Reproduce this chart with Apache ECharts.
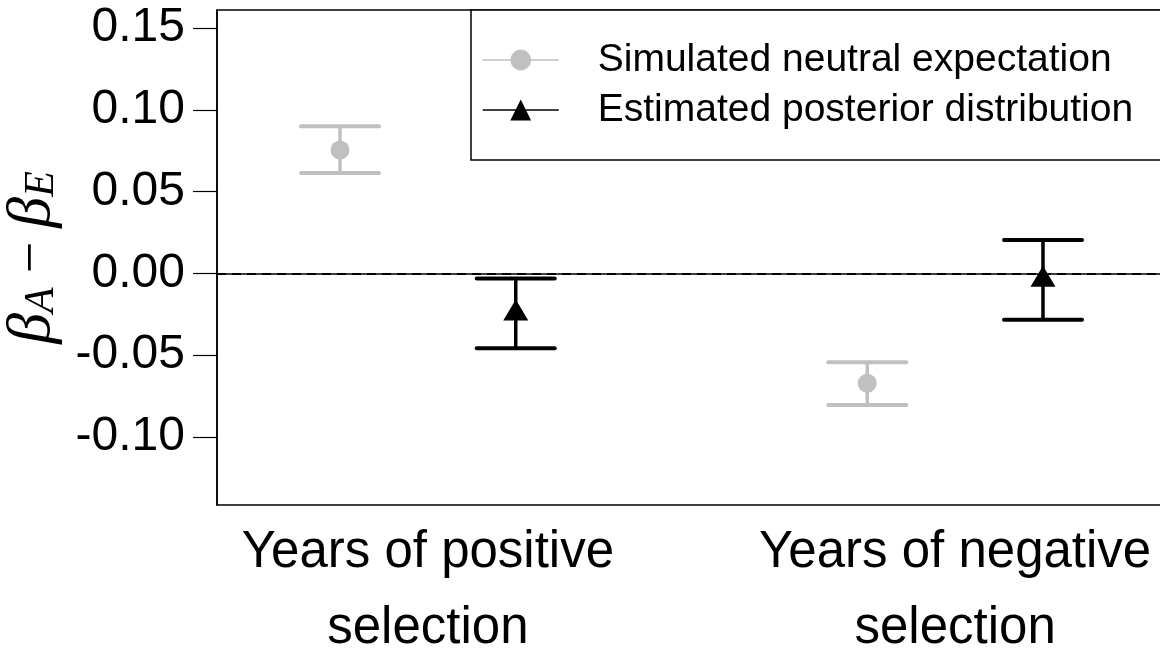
<!DOCTYPE html>
<html>
<head>
<meta charset="utf-8">
<script src="https://cdn.jsdelivr.net/npm/echarts@6/dist/echarts.min.js"></script>
<style>
html,body{margin:0;padding:0;background:#fff;}
#chart{width:1160px;height:650px;}
</style>
</head>
<body>
<div id="chart"></div>
<script>
// ---- data ----
var categories = ['Years of positive\nselection', 'Years of negative\nselection'];
var catPos = [1, 2];
var seriesNames = ['Simulated neutral expectation', 'Estimated posterior distribution'];
var neutralMean = [0.0754, -0.0672];
var neutralLow = [0.0613, -0.0805];
var neutralHigh = [0.0900, -0.0544];
var posteriorMean = [-0.0224, -0.0018];
var posteriorLow = [-0.0458, -0.0284];
var posteriorHigh = [-0.0031, 0.0204];
var yTicks = [-0.10, -0.05, 0.00, 0.05, 0.10, 0.15];

// ---- chart ----
var OFF = 1 / 6;
var GRAY = '#c0c0c0';
var BLACK = '#000000';
var FONT = 'Liberation Sans';

function errData(low, high, sign) {
  return catPos.map(function (c, i) { return [c + sign * OFF, low[i], high[i]]; });
}
function meanData(mean, sign) {
  return catPos.map(function (c, i) { return [c + sign * OFF, mean[i]]; });
}
function errSeries(low, high, sign, color) {
  return {
    type: 'custom',
    silent: true,
    z: 2,
    data: errData(low, high, sign),
    encode: { x: 0, y: [1, 2] },
    renderItem: function (params, api) {
      var x = api.value(0);
      var lo = api.coord([x, api.value(1)]);
      var hi = api.coord([x, api.value(2)]);
      var hw = 39;
      return {
        type: 'group',
        children: [
          { type: 'line', shape: { x1: lo[0], y1: lo[1], x2: hi[0], y2: hi[1] },
            style: { stroke: color, lineWidth: 3.5 } },
          { type: 'line', shape: { x1: lo[0] - hw, y1: lo[1], x2: lo[0] + hw, y2: lo[1] },
            style: { stroke: color, lineWidth: 4, lineCap: 'round' } },
          { type: 'line', shape: { x1: hi[0] - hw, y1: hi[1], x2: hi[0] + hw, y2: hi[1] },
            style: { stroke: color, lineWidth: 4, lineCap: 'round' } }
        ]
      };
    }
  };
}

var chart = echarts.init(document.getElementById('chart'), null, { renderer: 'canvas' });
var option = {
  animation: false,
  backgroundColor: '#fff',
  grid: {
    left: 217, top: 10, width: 949, height: 495,
    containLabel: false,
    outerBoundsMode: 'none',
    show: true, borderColor: BLACK, borderWidth: 1.5, backgroundColor: 'transparent'
  },
  legend: {
    orient: 'vertical',
    left: 471, top: 10,
    padding: [30, 60, 30, 11],
    itemGap: 10,
    itemWidth: 76,
    itemHeight: 26,
    borderColor: BLACK,
    borderWidth: 1.5,
    borderRadius: 0,
    backgroundColor: '#fff',
    textStyle: { fontFamily: FONT, fontSize: 39, color: BLACK, lineHeight: 40, padding: [0, 0, 0, 34] },
    data: [
      { name: seriesNames[0], lineStyle: { color: GRAY, width: 1.5, opacity: 1 } },
      { name: seriesNames[1], lineStyle: { color: BLACK, width: 1.5, opacity: 1 } }
    ]
  },
  xAxis: {
    type: 'value', min: 0.6, max: 2.4,
    axisLine: { show: true, lineStyle: { color: BLACK, width: 1.5 } },
    axisTick: { show: false },
    splitLine: { show: false },
    axisLabel: {
      customValues: catPos,
      formatter: function (v) { return categories[Math.round(v) - 1]; },
      fontFamily: FONT, fontSize: 51, color: BLACK, lineHeight: 76, margin: 10
    }
  },
  yAxis: {
    type: 'value', min: -0.1416, max: 0.161,
    axisLine: { show: true, lineStyle: { color: BLACK, width: 1.5 } },
    axisTick: { show: true, customValues: yTicks, length: 24, lineStyle: { color: BLACK, width: 1.2 } },
    splitLine: { show: false },
    axisLabel: {
      customValues: yTicks,
      formatter: function (v) { return v.toFixed(2); },
      fontFamily: FONT, fontSize: 48, color: BLACK, margin: 32
    },
    name: '{b|β}{s|A}{m| − }{b|β}{s|E}',
    nameLocation: 'middle',
    nameRotate: 90,
    nameGap: 154,
    nameTextStyle: {
      rich: {
        b: { fontFamily: 'Liberation Serif', fontStyle: 'italic', fontSize: 62, lineHeight: 60, color: BLACK },
        s: { fontFamily: 'Liberation Serif', fontStyle: 'italic', fontSize: 42, lineHeight: 34, verticalAlign: 'bottom', color: BLACK },
        m: { fontFamily: 'Liberation Serif', fontSize: 56, lineHeight: 60, color: BLACK }
      }
    }
  },
  series: [
    errSeries(neutralLow, neutralHigh, -1, GRAY),
    errSeries(posteriorLow, posteriorHigh, 1, BLACK),
    {
      name: seriesNames[0],
      type: 'line',
      z: 3,
      data: meanData(neutralMean, -1),
      symbol: 'circle',
      symbolSize: 19,
      itemStyle: { color: GRAY },
      lineStyle: { color: GRAY, width: 1.5, opacity: 0 },
      markLine: {
        silent: true, symbol: 'none',
        label: { show: false },
        lineStyle: { color: BLACK, type: [9, 6], width: 1.8, opacity: 1 },
        data: [{ yAxis: 0 }]
      }
    },
    {
      name: seriesNames[1],
      type: 'line',
      z: 3,
      data: meanData(posteriorMean, 1),
      symbol: 'triangle',
      symbolSize: [25, 21],
      itemStyle: { color: BLACK },
      lineStyle: { color: BLACK, width: 1.5, opacity: 0 }
    }
  ]
};
chart.setOption(option);
</script>
</body>
</html>
